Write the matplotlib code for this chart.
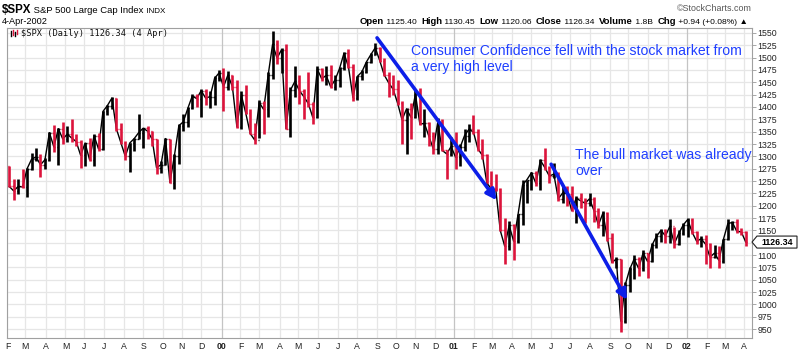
import matplotlib
matplotlib.use('Agg')
import matplotlib.pyplot as plt
import numpy as np
import pandas as pd
from matplotlib.patches import Polygon
from matplotlib.lines import Line2D

plt.rcParams['font.family'] = ['Liberation Sans', 'DejaVu Sans']

# weekly bars (week ending Friday)
weeks = pd.date_range('1999-02-05', '2002-04-05', freq='W-FRI')
first_open = 1279.6
high = [1281, 1255, 1254, 1275, 1276, 1306, 1317, 1304, 1297, 1349, 1363, 1358, 1370,
        1362, 1375, 1346, 1333, 1328, 1337, 1345, 1347, 1392, 1405, 1420, 1418, 1368,
        1332, 1328, 1337, 1385, 1358, 1362, 1352, 1336, 1291, 1337, 1336, 1304, 1365,
        1385, 1399, 1426, 1427, 1436, 1437, 1432, 1462, 1474,
        1478, 1473, 1465, 1455, 1433, 1444, 1395, 1367, 1415, 1412, 1470, 1553, 1535,
        1520, 1527, 1440, 1483, 1464, 1437, 1470, 1410, 1483, 1478, 1483, 1486, 1465,
        1480, 1512, 1518, 1487, 1463, 1475, 1492, 1510, 1530, 1521, 1500, 1470, 1465,
        1455, 1412, 1398, 1408, 1434, 1439, 1395, 1370, 1350, 1378, 1375, 1313, 1340,
        1350, 1325, 1355, 1365, 1383, 1355, 1335, 1305, 1270, 1265, 1235, 1175, 1170,
        1162, 1183, 1253, 1253, 1268, 1270, 1294, 1316, 1280, 1287, 1268, 1240, 1240,
        1240, 1220, 1225, 1215, 1226, 1218, 1195, 1190, 1188, 1145, 1097, 1092, 1045,
        1076, 1100, 1096, 1110, 1104, 1125, 1145, 1153, 1152, 1173, 1157, 1150, 1165,
        1176, 1176, 1148, 1138, 1140, 1125, 1120, 1118, 1133, 1173, 1170, 1174, 1155, 1148]
low = [1237, 1212, 1224, 1235, 1218, 1272, 1290, 1258, 1274, 1290, 1308, 1282, 1326,
       1330, 1330, 1320, 1276, 1281, 1290, 1280, 1310, 1313, 1383, 1395, 1352, 1325,
       1293, 1268, 1310, 1335, 1317, 1335, 1320, 1265, 1266, 1282, 1245, 1233, 1285,
       1352, 1360, 1395, 1400, 1380, 1405, 1397, 1405, 1453,
       1392, 1434, 1435, 1357, 1355, 1385, 1345, 1325, 1338, 1345, 1380, 1457, 1488,
       1468, 1355, 1340, 1420, 1407, 1375, 1400, 1365, 1378, 1452, 1445, 1438, 1435,
       1440, 1475, 1478, 1413, 1415, 1455, 1468, 1490, 1505, 1492, 1462, 1420, 1425,
       1405, 1325, 1305, 1335, 1377, 1363, 1340, 1320, 1305, 1305, 1310, 1254, 1300,
       1275, 1280, 1310, 1330, 1345, 1311, 1295, 1245, 1225, 1230, 1148, 1081, 1110,
       1091, 1125, 1160, 1205, 1232, 1240, 1232, 1272, 1245, 1256, 1210, 1205, 1200,
       1190, 1165, 1195, 1165, 1200, 1168, 1155, 1138, 1128, 1083, 1073, 944, 962,
       1026, 1052, 1057, 1067, 1054, 1085, 1115, 1126, 1125, 1125, 1115, 1120, 1140,
       1136, 1143, 1122, 1116, 1081, 1074, 1094, 1074, 1084, 1130, 1150, 1145, 1140, 1118]
close = [1239, 1230, 1239, 1238, 1275, 1294, 1299, 1283, 1293, 1348, 1319, 1356, 1335,
         1345, 1337, 1330, 1302, 1327, 1293, 1342, 1315, 1391, 1403, 1418, 1356, 1328,
         1300, 1327, 1336, 1348, 1357, 1351, 1335, 1277, 1283, 1336, 1247, 1301, 1362,
         1370, 1397, 1422, 1417, 1433, 1418, 1421, 1458, 1469,
         1441, 1465, 1441, 1360, 1424, 1387, 1346, 1333, 1409, 1395, 1464, 1527, 1499,
         1516, 1356, 1434, 1452, 1433, 1421, 1407, 1379, 1477, 1457, 1464, 1441, 1455,
         1478, 1509, 1481, 1419, 1462, 1471, 1491, 1506, 1520, 1494, 1465, 1449, 1436,
         1408, 1374, 1396, 1379, 1426, 1365, 1367, 1341, 1315, 1369, 1312, 1305, 1320,
         1298, 1318, 1342, 1355, 1349, 1315, 1302, 1246, 1234, 1233, 1150, 1118, 1160,
         1128, 1183, 1242, 1253, 1267, 1245, 1292, 1277, 1260, 1264, 1214, 1226, 1224,
         1190, 1215, 1210, 1205, 1214, 1190, 1161, 1185, 1134, 1085, 1092, 966, 1040,
         1071, 1092, 1073, 1104, 1087, 1120, 1138, 1150, 1139, 1158, 1123, 1144, 1161,
         1172, 1146, 1128, 1133, 1122, 1096, 1104, 1089, 1132, 1164, 1166, 1148, 1147, 1126.34]

yticks = list(range(950, 1551, 25))
month_starts = pd.date_range('1999-02-01', '2002-04-01', freq='MS')

W, H = 800, 354
fig = plt.figure(figsize=(W / 100, H / 100), dpi=100)
ax = fig.add_axes([7 / W, 1 - 338 / H, (752 - 7) / W, (338 - 28) / H])

# trading-day axis
bdays = pd.bdate_range('1999-02-01', '2002-05-31')
def xpos(d):
    return bdays.searchsorted(pd.Timestamp(d))

x = np.array([xpos(d) for d in weeks]) - 2
opens = [first_open] + close[:-1]
red = '#dc143c'
cols = ['black' if c >= o else red for o, c in zip(opens, close)]

# grid
for v in yticks:
    ax.axhline(v, color='#e6e6e6', lw=0.9, zorder=0)
mx = [xpos(d) for d in month_starts]
for d, p in zip(month_starts, mx):
    ax.axvline(p, color='#c4c4c4' if d.month == 1 else '#e6e6e6', lw=0.9, zorder=0)

# price bars
ax.plot(x, close, color='black', lw=1.0, zorder=2)
ax.vlines(x, low, high, colors=cols, lw=1.9, zorder=3)
ax.hlines(opens, x - 1.7, x, colors=cols, lw=1.0, zorder=3)
ax.hlines(close, x, x + 1.7, colors=cols, lw=1.0, zorder=3)

last_x = xpos('2002-04-04')
ax.set_xlim(-0.5, last_x + 6)
ax.set_ylim(932, 1560)

for s in ax.spines.values():
    s.set_color('#a0a0a0')
    s.set_linewidth(0.8)

ax.yaxis.tick_right()
ax.set_yticks(yticks)
ax.set_yticklabels(['' if v == 1125 else str(v) for v in yticks])
ax.tick_params(axis='y', length=3, width=0.6, color='#999999', labelsize=6.3,
               labelcolor='#222222', pad=1)

ax.set_xticks(mx)
ax.set_xticklabels([str(d.year)[2:] if d.month == 1 else d.strftime('%b')[0] for d in month_starts])
ax.tick_params(axis='x', length=0, labelsize=6.3, labelcolor='#222222', pad=3)
for d, lab in zip(month_starts, ax.get_xticklabels()):
    if d.month == 1:
        lab.set_fontweight('bold')

# annotations
blue = '#0c1ee8'
ax.annotate('', xy=(xpos('2001-03-08'), 1211), xytext=(xpos('2000-09-01'), 1540),
            arrowprops=dict(arrowstyle='-|>', lw=2.6, color=blue, mutation_scale=15,
                            shrinkA=0, shrinkB=0), zorder=5)
ax.annotate('', xy=(xpos('2001-09-28'), 1009), xytext=(xpos('2001-06-01'), 1284),
            arrowprops=dict(arrowstyle='-|>', lw=2.6, color=blue, mutation_scale=15,
                            shrinkA=0, shrinkB=0), zorder=5)
fig.text(411 / W, 1 - 59 / H, 'Consumer Confidence fell with the stock market from\na very high level',
         color='#1f3fff', fontsize=10.1, va='center', linespacing=1.12)
fig.text(575 / W, 1 - 163 / H, 'The bull market was already\nover',
         color='#1f3fff', fontsize=10.1, va='center', linespacing=1.12)

# legend inside the chart
fig.text(21 / W, 1 - 36 / H, '$SPX (Daily) 1126.34 (4 Apr)', family='DejaVu Sans Mono',
         fontsize=6.2, color='#111111')
for i, (a, b) in enumerate([(31, 36), (30, 35), (32, 36), (30, 34)]):
    xx = (11 + i * 2) / W
    fig.add_artist(Line2D([xx, xx], [1 - b / H, 1 - a / H], color='black' if i % 2 == 0 else red,
                          lw=1.0, transform=fig.transFigure))

# header
renderer = fig.canvas.get_renderer()
def run_text(x0, y0, pieces, right=False):
    arts = []
    for s, kw in pieces:
        t = fig.text(0, 1 - y0 / H, s, **kw)
        arts.append(t)
    widths = [t.get_window_extent(renderer).width for t in arts]
    cur = x0 - sum(widths) if right else x0
    for t, w in zip(arts, widths):
        t.set_x(cur / W)
        cur += w

run_text(2, 13, [('$SPX', dict(fontsize=8.3, fontweight='bold')),
                 (' S&P 500 Large Cap Index', dict(fontsize=6.8)),
                 (' INDX', dict(fontsize=5.8))])
fig.text(2 / W, 1 - 24 / H, '4-Apr-2002', fontsize=6.6)
b = dict(fontsize=6.8, fontweight='bold')
n = dict(fontsize=6.1)
run_text(748, 24, [('Open', b), (' 1125.40  ', n), ('High', b), (' 1130.45  ', n),
                   ('Low', b), (' 1120.06  ', n), ('Close', b), (' 1126.34  ', n),
                   ('Volume', b), (' 1.8B  ', n), ('Chg', b), (' +0.94 (+0.08%) \u25b2', n)],
         right=True)
fig.text(752 / W, 1 - 11 / H, '\u00a9StockCharts.com', fontsize=6.4, color='#555555', ha='right')

# last price box on the right axis
py = ax.transData.transform((0, 1126.34))[1]
pts = [(752, py), (757, py + 6), (797, py + 6), (797, py - 6), (757, py - 6)]
fig.add_artist(Polygon([(px / W, yy / H) for px, yy in pts], closed=True, transform=fig.transFigure,
                       facecolor='white', edgecolor='#222222', lw=0.8, zorder=6))
fig.text(777 / W, py / H, '1126.34', fontsize=6.4, fontweight='bold', ha='center', va='center',
         zorder=7)

fig.savefig('out.png', dpi=100)
